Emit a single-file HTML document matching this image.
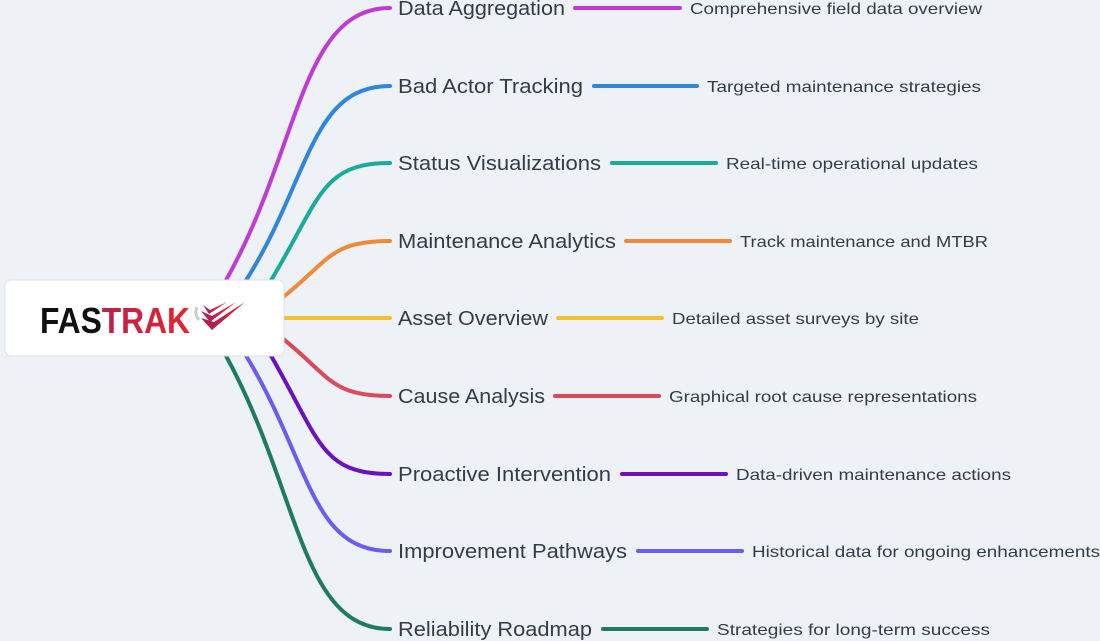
<!DOCTYPE html>
<html><head><meta charset="utf-8"><style>
html,body{margin:0;padding:0;background:#eef1f5;}
svg{display:block;}
text{font-family:"Liberation Sans",sans-serif;fill:#333d47;}
</style></head><body>
<svg width="1100" height="641" viewBox="0 0 1100 641" xmlns="http://www.w3.org/2000/svg">
<defs>
<linearGradient id="tg" x1="0" x2="1" y1="0" y2="0">
<stop offset="0" stop-color="#a0205a"/><stop offset="1" stop-color="#e8222e"/>
</linearGradient>
<linearGradient id="wg" x1="0" x2="1" y1="1" y2="0">
<stop offset="0" stop-color="#a0205a"/><stop offset="1" stop-color="#e8222e"/>
</linearGradient>
</defs>
<g fill="none" stroke-width="4" stroke-linecap="round">
<path d="M225,282 C300,150 300,8 390,8" stroke="#c03bd6"/>
<path d="M245,282 C310,180 310,86 390,86" stroke="#2e86de"/>
<path d="M270,282 C320,200 320,163 390,163" stroke="#1aab9b"/>
<path d="M282,298 C330,260 330,241 390,241" stroke="#ee8a3a"/>
<path d="M284,318 L390,318" stroke="#f5c02c"/>
<path d="M282,338 C330,376 330,396 390,396" stroke="#d94a5a"/>
<path d="M270,354 C320,440 320,474 390,474" stroke="#6a11c0"/>
<path d="M245,354 C310,460 310,551 390,551" stroke="#6a5cf5"/>
<path d="M225,354 C300,490 300,629 390,629" stroke="#1f7a64"/>

<line x1="575" y1="8" x2="680" y2="8" stroke="#c03bd6"/>
<line x1="594" y1="86" x2="697" y2="86" stroke="#2e86de"/>
<line x1="612" y1="163" x2="716" y2="163" stroke="#1aab9b"/>
<line x1="626" y1="241" x2="730" y2="241" stroke="#ee8a3a"/>
<line x1="558" y1="318" x2="662" y2="318" stroke="#f5c02c"/>
<line x1="555" y1="396" x2="659" y2="396" stroke="#d94a5a"/>
<line x1="622" y1="474" x2="726" y2="474" stroke="#6a11c0"/>
<line x1="638" y1="551" x2="742" y2="551" stroke="#6a5cf5"/>
<line x1="603" y1="629" x2="707" y2="629" stroke="#1f7a64"/>
</g>
<rect x="5" y="280" width="279" height="76" rx="6" fill="#fff" stroke="#dde1e6"/>
<text x="40" y="333" font-size="36" font-weight="bold" textLength="150" lengthAdjust="spacingAndGlyphs"><tspan fill="#111">FAS</tspan><tspan fill="url(#tg)">TRAK</tspan></text>
<path d="M197,307 q-3,7 2,13" stroke="#ccc" stroke-width="3" fill="none"/>
<path d="M201,318 L212,330 L245,302 L214,322 Z" fill="url(#wg)"/>
<path d="M201,311 L210,322 L236,302 L212,316 Z" fill="url(#wg)"/>
<path d="M203,305 L209,314 L227,302 L210,310 Z" fill="url(#wg)"/>

<g font-size="20">
<text x="398" y="15" textLength="167" lengthAdjust="spacingAndGlyphs">Data Aggregation</text>
<text x="398" y="93" textLength="185" lengthAdjust="spacingAndGlyphs">Bad Actor Tracking</text>
<text x="398" y="170" textLength="203" lengthAdjust="spacingAndGlyphs">Status Visualizations</text>
<text x="398" y="248" textLength="218" lengthAdjust="spacingAndGlyphs">Maintenance Analytics</text>
<text x="398" y="325" textLength="150" lengthAdjust="spacingAndGlyphs">Asset Overview</text>
<text x="398" y="403" textLength="147" lengthAdjust="spacingAndGlyphs">Cause Analysis</text>
<text x="398" y="481" textLength="213" lengthAdjust="spacingAndGlyphs">Proactive Intervention</text>
<text x="398" y="558" textLength="229" lengthAdjust="spacingAndGlyphs">Improvement Pathways</text>
<text x="398" y="636" textLength="194" lengthAdjust="spacingAndGlyphs">Reliability Roadmap</text>
</g>
<g font-size="16">
<text x="690" y="14" textLength="292" lengthAdjust="spacingAndGlyphs">Comprehensive field data overview</text>
<text x="707" y="92" textLength="274" lengthAdjust="spacingAndGlyphs">Targeted maintenance strategies</text>
<text x="726" y="169" textLength="252" lengthAdjust="spacingAndGlyphs">Real-time operational updates</text>
<text x="740" y="247" textLength="248" lengthAdjust="spacingAndGlyphs">Track maintenance and MTBR</text>
<text x="672" y="324" textLength="247" lengthAdjust="spacingAndGlyphs">Detailed asset surveys by site</text>
<text x="669" y="402" textLength="308" lengthAdjust="spacingAndGlyphs">Graphical root cause representations</text>
<text x="736" y="480" textLength="275" lengthAdjust="spacingAndGlyphs">Data-driven maintenance actions</text>
<text x="752" y="557" textLength="348" lengthAdjust="spacingAndGlyphs">Historical data for ongoing enhancements</text>
<text x="717" y="635" textLength="273" lengthAdjust="spacingAndGlyphs">Strategies for long-term success</text>
</g>
</svg>
</body></html>
